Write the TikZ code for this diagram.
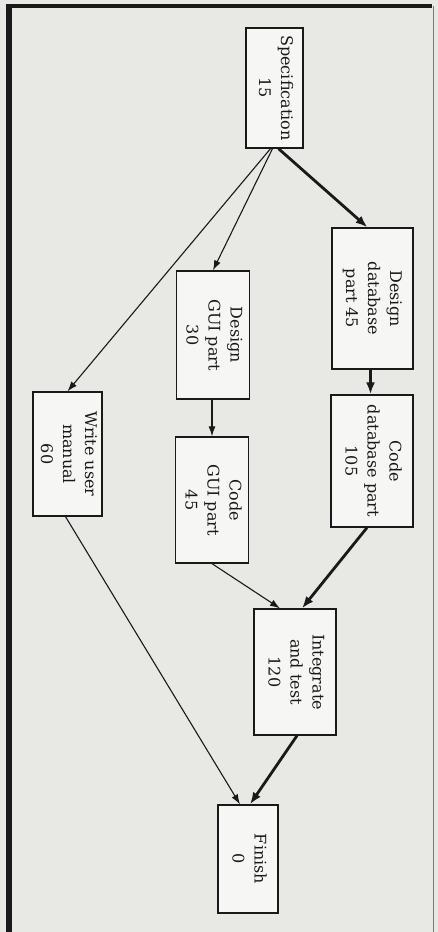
\documentclass[tikz,border=0pt]{standalone}
\usepackage{fontspec}
\setmainfont{DejaVu Serif}
\usetikzlibrary{arrows.meta}
\definecolor{paper}{RGB}{232,232,229}
\definecolor{boxfill}{RGB}{246,246,244}
\definecolor{ink}{RGB}{25,25,25}
\definecolor{edgegray}{RGB}{120,120,120}
\newcommand{\rotlbl}[1]{\rotatebox{-90}{\begin{tabular}{@{}c@{}}#1\end{tabular}}}
\begin{document}
\begin{tikzpicture}[x=1pt,y=-1pt,
  taskbox/.style={draw=ink, line width=1.3pt, fill=boxfill, inner sep=0pt,
    text=ink, font=\fontsize{16}{22}\selectfont},
  crit/.style={draw=ink, line width=2.8pt, -{Latex[length=12pt,width=9pt]}},
  norm/.style={draw=ink, line width=1.1pt, -{Latex[length=10pt,width=7pt]}}]
\fill[paper] (0,0) rectangle (438,932);
\useasboundingbox (0,0) rectangle (438,932);
% scan border
\draw[ink, line width=6pt] (8.5,4) -- (8.5,932);
\draw[ink, line width=4pt] (5.5,6) -- (432,6);
\draw[edgegray, line width=1pt] (433,6) -- (433,932);
% tasks
\node[taskbox, minimum width=57pt, minimum height=120pt] (spec) at (274.5,88) {\rotlbl{Specification\\15}};
\node[taskbox, minimum width=81pt, minimum height=141pt] (ddb) at (372.5,298.5) {\rotlbl{Design\\database\\part 45}};
\node[taskbox, minimum width=73pt, minimum height=128pt] (dgui) at (213,335) {\rotlbl{Design\\GUI part\\30}};
\node[taskbox, minimum width=69pt, minimum height=124pt] (wum) at (67.5,454) {\rotlbl{Write user\\manual\\60}};
\node[taskbox, minimum width=73pt, minimum height=126pt] (cgui) at (212,500) {\rotlbl{Code\\GUI part\\45}};
\node[taskbox, minimum width=82pt, minimum height=132pt] (cdb) at (372,461) {\rotlbl{Code\\database part\\105}};
\node[taskbox, minimum width=82pt, minimum height=126pt] (int) at (295,672) {\rotlbl{Integrate\\and test\\120}};
\node[taskbox, minimum width=60pt, minimum height=108pt] (fin) at (248,859) {\rotlbl{Finish\\0}};
% dependencies
\draw[crit] ([xshift=4pt]spec.south) -- ([xshift=-5pt]ddb.north);
\draw[norm] ([xshift=-2pt]spec.south) -- (dgui.north);
\draw[norm] ([xshift=-4pt]spec.south) -- (wum.north);
\draw[crit] ([xshift=-2pt]ddb.south) -- ([xshift=-2pt]ddb.south |- cdb.north);
\draw[norm] ([xshift=-1pt]dgui.south) -- ([xshift=-1pt]dgui.south |- cgui.north);
\draw[crit] ([xshift=-5pt]cdb.south) -- ([xshift=7pt]int.north);
\draw[norm] (cgui.south) -- ([xshift=-15pt]int.north);
\draw[crit] ([xshift=2pt]int.south) -- ([xshift=2pt]fin.north);
\draw[norm] ([xshift=-2pt]wum.south) -- ([xshift=-8pt]fin.north);
\end{tikzpicture}
\end{document}
